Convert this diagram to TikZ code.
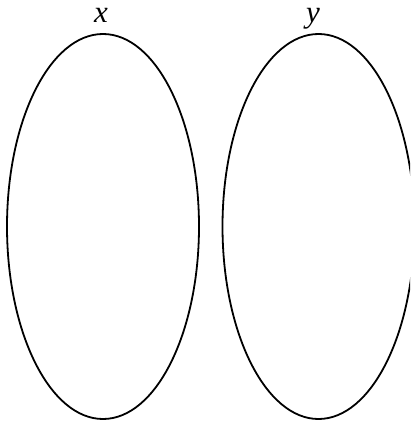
\documentclass[tikz,border=0pt]{standalone}
\usepackage{fontspec}
\setmainfont{Liberation Serif}
\begin{document}
\begin{tikzpicture}[x=1pt,y=-1pt,
  setline/.style={draw=black,line width=1.8pt},
  lab/.style={anchor=base,font=\fontsize{31}{34}\selectfont\itshape,inner sep=0pt}]
\useasboundingbox (0,0) rectangle (410,422);
\clip (0,0) rectangle (410,422);
\draw[setline] (103,226.5) ellipse [x radius=96, y radius=192.5];
\draw[setline] (318.5,226.5) ellipse [x radius=96, y radius=192.5];
\node[lab] (lx) at (101,23) {x};
\node[lab] (ly) at (313,23) {y};
\end{tikzpicture}
\end{document}
